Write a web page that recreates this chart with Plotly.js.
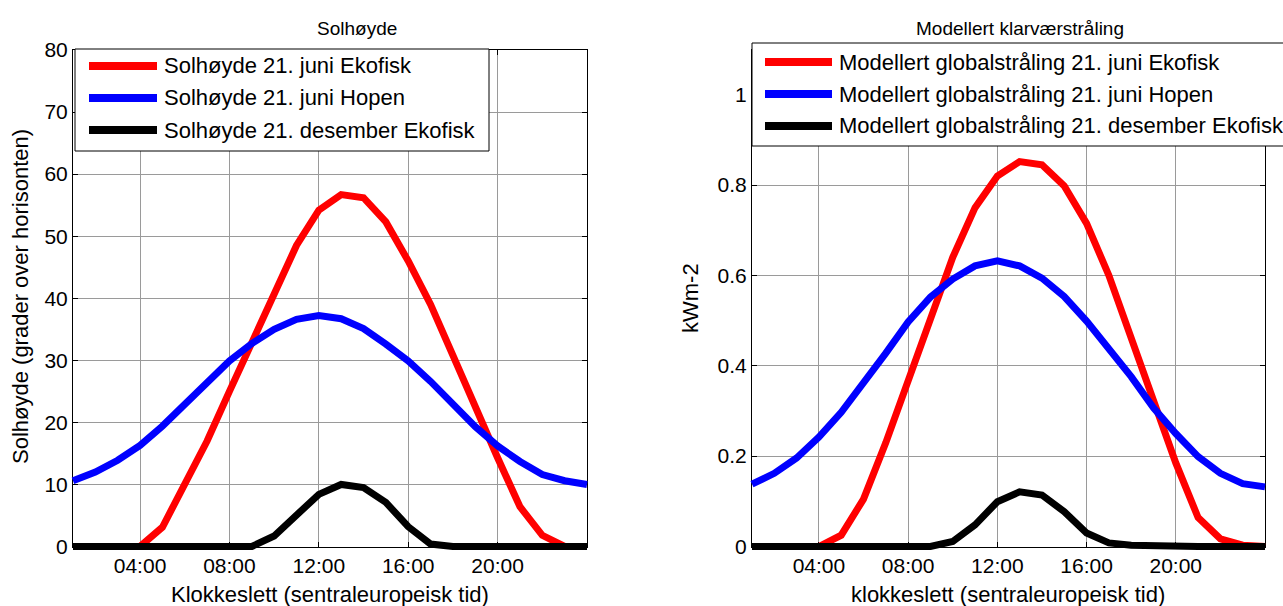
<!DOCTYPE html>
<html>
<head>
<meta charset="utf-8">
<script src="https://cdn.plot.ly/plotly-3.0.1.min.js"></script>
<style>html,body{margin:0;padding:0;background:#fff;}#chart{width:1283px;height:606px;}</style>
</head>
<body>
<div id="chart"></div>
<script>
// ---- data ----
const hours = [1,2,3,4,5,6,7,8,9,10,11,12,13,14,15,16,17,18,19,20,21,22,23,24];
const tickHours = [4, 8, 12, 16, 20];
const tickLabels = ['04:00', '08:00', '12:00', '16:00', '20:00'];

// Solhøyde (degrees)
const elevJuneEkofisk = [0,0,0,0,3.1,9.8,17.0,25.0,32.8,40.8,48.5,54.2,56.7,56.2,52.3,46.0,39.0,30.8,22.3,14.3,6.4,1.8,0,0];
const elevJuneHopen   = [10.6,12.0,13.9,16.3,19.4,23.0,26.6,29.9,32.7,35.0,36.6,37.2,36.7,35.1,32.6,29.9,26.6,23.0,19.3,16.2,13.7,11.6,10.6,10.0];
const elevDecEkofisk  = [0,0,0,0,0,0,0,0,0,1.7,5.0,8.4,10.0,9.5,7.1,3.2,0.4,0,0,0,0,0,0,0];

// Modellert globalstråling (kW m-2)
const radJuneEkofisk = [0,0,0,0,0.025,0.105,0.23,0.37,0.51,0.64,0.75,0.82,0.852,0.845,0.798,0.715,0.60,0.46,0.32,0.185,0.064,0.017,0.003,0];
const radJuneHopen   = [0.138,0.162,0.196,0.242,0.297,0.36,0.428,0.497,0.552,0.592,0.621,0.632,0.621,0.594,0.553,0.499,0.439,0.376,0.307,0.25,0.199,0.162,0.139,0.132];
const radDecEkofisk  = [0,0,0,0,0,0,0,0,0,0.011,0.048,0.099,0.121,0.114,0.077,0.03,0.008,0.003,0.001,0,0,0,0,0];

const leftNames  = ['Solhøyde 21. juni Ekofisk', 'Solhøyde 21. juni Hopen', 'Solhøyde 21. desember Ekofisk'];
const rightNames = ['Modellert globalstråling 21. juni Ekofisk', 'Modellert globalstråling 21. juni Hopen', 'Modellert globalstråling 21. desember Ekofisk'];
const colors = ['#ff0000', '#0000ff', '#000000'];

// ---- layout helpers ----
const W = 1283, H = 606;
const px = x => x / W;
const py = y => 1 - y / H;
const FONT = 'Liberation Sans, Arial, Helvetica, sans-serif';
const LW = 7;

// plot boxes in pixels
const L = {x0: 73, x1: 587, y0: 50, y1: 546.5, xr: [1, 24], yr: [0, 80]};
const R = {x0: 752, x1: 1265, y0: 49.5, y1: 546.5, xr: [1, 24], yr: [0, 1.1]};
const PAD = 5; // lets thick lines overhang the frame like in the original

function padded(box) {
  const sx = (box.xr[1] - box.xr[0]) / (box.x1 - box.x0);
  const sy = (box.yr[1] - box.yr[0]) / (box.y1 - box.y0);
  return {
    xdomain: [px(box.x0 - PAD), px(box.x1 + PAD)],
    ydomain: [py(box.y1 + PAD), py(box.y0)],
    xrange: [box.xr[0] - PAD * sx, box.xr[1] + PAD * sx],
    yrange: [box.yr[0] - PAD * sy, box.yr[1]]
  };
}
const LP = padded(L), RP = padded(R);

const leftSeries = [elevJuneEkofisk, elevJuneHopen, elevDecEkofisk];
const rightSeries = [radJuneEkofisk, radJuneHopen, radDecEkofisk];

const traces = [
  // empty traces so the framed subplots (axes, grid, ticks) are drawn
  {x: [], y: [], type: 'scatter', mode: 'lines', xaxis: 'x', yaxis: 'y', showlegend: false, hoverinfo: 'skip'},
  {x: [], y: [], type: 'scatter', mode: 'lines', xaxis: 'x2', yaxis: 'y2', showlegend: false, hoverinfo: 'skip'}
];
leftSeries.forEach((s, i) => traces.push({
  x: hours, y: s, type: 'scatter', mode: 'lines', name: leftNames[i],
  line: {color: colors[i], width: LW}, xaxis: 'x3', yaxis: 'y3', showlegend: false, hoverinfo: 'skip'
}));
rightSeries.forEach((s, i) => traces.push({
  x: hours, y: s, type: 'scatter', mode: 'lines', name: rightNames[i],
  line: {color: colors[i], width: LW}, xaxis: 'x4', yaxis: 'y4', showlegend: false, hoverinfo: 'skip'
}));

const axisCommon = {
  showline: true, linecolor: '#000', linewidth: 1, mirror: 'ticks',
  ticks: 'inside', ticklen: 5, tickcolor: '#000', tickwidth: 1,
  showgrid: true, gridcolor: '#9a9a9a', gridwidth: 1, zeroline: false,
  tickfont: {family: FONT, size: 21, color: '#000'}
};
const xCommon = Object.assign({}, axisCommon, {tickmode: 'array', tickvals: tickHours, ticktext: tickLabels});
const hiddenAxis = {visible: false, showgrid: false, zeroline: false, fixedrange: true};

// legend drawn as shapes + annotations
const shapes = [];
const annotations = [];
function legendBox(x0, x1, y0, y1, rows, lx0, lx1, tx, names) {
  shapes.push({type: 'rect', xref: 'paper', yref: 'paper', x0: px(x0), x1: px(x1), y0: py(y1), y1: py(y0),
    fillcolor: '#fff', line: {color: '#000', width: 1}, layer: 'above'});
  names.forEach((n, i) => {
    shapes.push({type: 'line', xref: 'paper', yref: 'paper', x0: px(lx0), x1: px(lx1), y0: py(rows[i]), y1: py(rows[i]),
      line: {color: colors[i], width: 8}, layer: 'above'});
    annotations.push({xref: 'paper', yref: 'paper', x: px(tx), y: py(rows[i]), xanchor: 'left', yanchor: 'middle',
      text: n, showarrow: false, font: {family: FONT, size: 22, color: '#000'}});
  });
}
legendBox(75, 489, 49, 151, [66, 98, 130], 89, 157, 162, leftNames);
legendBox(752, 1300, 43, 146, [62, 94, 126], 765, 832, 837, rightNames);

function txt(text, x, y, size, angle) {
  annotations.push({xref: 'paper', yref: 'paper', x: px(x), y: py(y), xanchor: 'center', yanchor: 'middle',
    text: text, showarrow: false, textangle: angle || 0, font: {family: FONT, size: size, color: '#000'}});
}
txt('Solhøyde', 357, 28, 19);
txt('Modellert klarværstråling', 1020, 28, 19);
txt('Klokkeslett (sentraleuropeisk tid)', 330, 594, 22);
txt('klokkeslett (sentraleuropeisk tid)', 1008, 594, 22);
txt('Solhøyde (grader over horisonten)', 20, 297, 22, -90);
txt('kWm-2', 690, 298, 22, -90);

const layout = {
  width: W, height: H,
  margin: {l: 0, r: 0, t: 0, b: 0, pad: 0},
  paper_bgcolor: '#fff', plot_bgcolor: 'rgba(0,0,0,0)',
  showlegend: false,
  font: {family: FONT, color: '#000'},
  xaxis: Object.assign({}, xCommon, {domain: [px(L.x0), px(L.x1)], range: L.xr, anchor: 'y'}),
  yaxis: Object.assign({}, axisCommon, {domain: [py(L.y1), py(L.y0)], range: L.yr, tickmode: 'array',
    tickvals: [0,10,20,30,40,50,60,70,80], anchor: 'x'}),
  xaxis2: Object.assign({}, xCommon, {domain: [px(R.x0), px(R.x1)], range: R.xr, anchor: 'y2'}),
  yaxis2: Object.assign({}, axisCommon, {domain: [py(R.y1), py(R.y0)], range: R.yr, tickmode: 'array',
    tickvals: [0, 0.2, 0.4, 0.6, 0.8, 1], ticktext: ['0','0.2','0.4','0.6','0.8','1'], anchor: 'x2'}),
  xaxis3: Object.assign({}, hiddenAxis, {domain: LP.xdomain, range: LP.xrange, anchor: 'y3'}),
  yaxis3: Object.assign({}, hiddenAxis, {domain: LP.ydomain, range: LP.yrange, anchor: 'x3'}),
  xaxis4: Object.assign({}, hiddenAxis, {domain: RP.xdomain, range: RP.xrange, anchor: 'y4'}),
  yaxis4: Object.assign({}, hiddenAxis, {domain: RP.ydomain, range: RP.yrange, anchor: 'x4'}),
  shapes: shapes,
  annotations: annotations
};

Plotly.newPlot('chart', traces, layout, {displayModeBar: false, staticPlot: true});
</script>
</body>
</html>
